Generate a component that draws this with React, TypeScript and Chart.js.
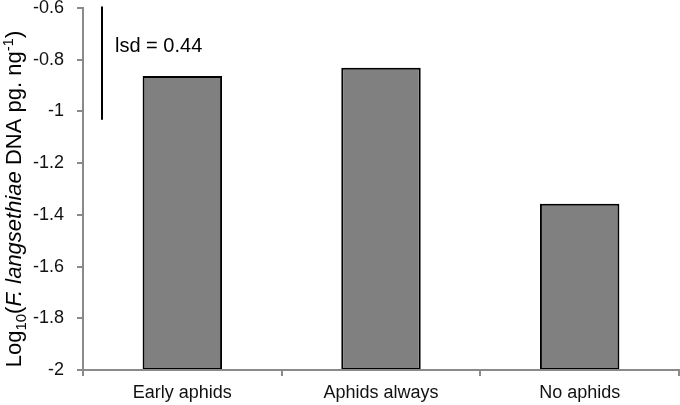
import React, { useEffect, useRef } from "react";
import { Chart, registerables } from "chart.js";

Chart.register(...registerables);

const categories = ["Early aphids", "Aphids always", "No aphids"];
const values = [-0.863, -0.831, -1.357];
const yTickValues = [-2, -1.8, -1.6, -1.4, -1.2, -1, -0.8, -0.6];
const yTickLabels = ["-2", "-1.8", "-1.6", "-1.4", "-1.2", "-1", "-0.8", "-0.6"];
const yMin = -2;
const yMax = -0.6;
const lsdValue = 0.44;
const lsdLabel = "lsd = 0.44";

const FONT = "'Liberation Sans', Arial, sans-serif";

const overlayPlugin = {
  id: "overlay",
  afterDraw(chart: any) {
    const ctx = chart.ctx;
    const y = chart.scales.y;
    const area = chart.chartArea;
    ctx.save();
    // lsd bar
    const lx = area.left + 19;
    ctx.strokeStyle = "#000";
    ctx.lineWidth = 2;
    ctx.beginPath();
    ctx.moveTo(lx, y.getPixelForValue(yMax) - 1.5);
    ctx.lineTo(lx, y.getPixelForValue(yMax - lsdValue) - 2);
    ctx.stroke();
    ctx.fillStyle = "#000";
    ctx.font = `20px ${FONT}`;
    ctx.textAlign = "left";
    ctx.textBaseline = "alphabetic";
    ctx.fillText(lsdLabel, area.left + 32, 51.5);

    // y-axis title with rich text
    const main = 22;
    const small = 15;
    const parts: { t: string; f: string; dy: number }[] = [
      { t: "Log", f: `${main}px ${FONT}`, dy: 0 },
      { t: "10", f: `${small}px ${FONT}`, dy: 5 },
      { t: "(", f: `${main}px ${FONT}`, dy: 0 },
      { t: "F. langsethiae", f: `italic ${main}px ${FONT}`, dy: 0 },
      { t: " DNA pg. ng", f: `${main}px ${FONT}`, dy: 0 },
      { t: "-1", f: `${small}px ${FONT}`, dy: -8 },
      { t: ")", f: `${main}px ${FONT}`, dy: 0 },
    ];
    let total = 0;
    const widths = parts.map((p) => {
      ctx.font = p.f;
      const w = ctx.measureText(p.t).width;
      total += w;
      return w;
    });
    ctx.translate(21, (area.top + area.bottom) / 2 + 10);
    ctx.rotate(-Math.PI / 2);
    let x = -total / 2;
    parts.forEach((p, i) => {
      ctx.font = p.f;
      ctx.fillText(p.t, x, p.dy);
      x += widths[i];
    });
    ctx.restore();
  },
};

export default function App() {
  const ref = useRef<HTMLCanvasElement>(null);
  useEffect(() => {
    if (!ref.current) return;
    const chart = new Chart(ref.current, {
      type: "bar",
      data: {
        labels: categories,
        datasets: [
          {
            data: values.map((v) => [yMin, v]) as any,
            backgroundColor: "#808080",
            borderColor: "#000",
            borderWidth: 2,
            borderSkipped: false,
            categoryPercentage: 1,
            barPercentage: 0.4,
          },
        ],
      },
      options: {
        animation: false,
        responsive: false,
        layout: { padding: { top: 8, right: 1, left: 0, bottom: 0 } },
        plugins: { legend: { display: false }, tooltip: { enabled: false } },
        scales: {
          x: {
            offset: true,
            grid: {
              offset: true,
              drawOnChartArea: false,
              drawTicks: true,
              tickLength: 6,
              color: "#8a8a8a",
              lineWidth: 2,
            },
            border: { display: true, color: "#8a8a8a", width: 2, z: 1 },
            ticks: {
              color: "#111",
              font: { family: FONT, size: 18 },
              padding: 6,
              maxRotation: 0,
            },
            afterFit: (s: any) => {
              s.height = 35;
              s.paddingLeft = 0;
              s.paddingRight = 0;
            },
          },
          y: {
            min: yMin,
            max: yMax,
            afterBuildTicks: (s: any) => {
              s.ticks = yTickValues.map((v) => ({ value: v }));
            },
            grid: {
              drawOnChartArea: false,
              drawTicks: true,
              tickLength: 6,
              color: "#8a8a8a",
              lineWidth: 2,
            },
            border: { display: true, color: "#8a8a8a", width: 2 },
            ticks: {
              color: "#111",
              font: { family: FONT, size: 18 },
              padding: 13,
              callback: (_v: any, i: number) => yTickLabels[i],
            },
            afterFit: (s: any) => {
              s.width = 83;
              s.paddingTop = 0;
              s.paddingBottom = 0;
            },
          },
        },
      },
      plugins: [overlayPlugin],
    });
    return () => chart.destroy();
  }, []);
  return (
    <div style={{ position: "fixed", left: 0, top: 0, width: 680, height: 405, background: "#fff" }}>
      <canvas ref={ref} width={680} height={405} />
    </div>
  );
}
